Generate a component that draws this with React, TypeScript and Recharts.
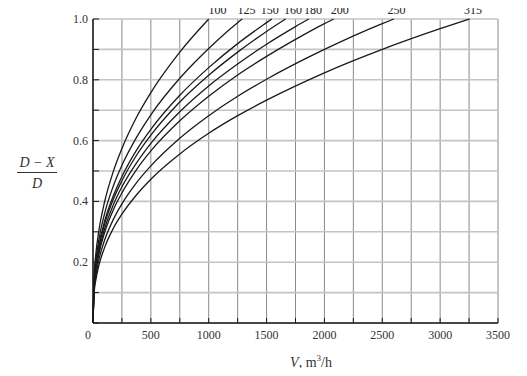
import {
  CartesianGrid,
  Line,
  LineChart,
  ReferenceDot,
  XAxis,
  YAxis,
} from "recharts";

// pipe diameters, one curve each
const diameters = [100, 125, 150, 160, 180, 200, 250, 315];

// [V, (D-X)/D]
const curve100 = [
  [0, 0], [10, 0.158], [25, 0.229], [50, 0.302], [100, 0.398], [175, 0.498],
  [250, 0.574], [375, 0.676], [500, 0.758], [750, 0.891], [1000, 1.0],
];
const curve125 = [
  [0, 0], [10, 0.143], [25, 0.207], [50, 0.273], [100, 0.36], [175, 0.45],
  [250, 0.519], [375, 0.61], [500, 0.685], [750, 0.805], [1000, 0.903],
  [1250, 0.988], [1290, 1.0],
];
const curve150 = [
  [0, 0], [10, 0.133], [25, 0.192], [50, 0.254], [100, 0.335], [175, 0.418],
  [250, 0.482], [375, 0.568], [500, 0.637], [750, 0.749], [1000, 0.84],
  [1250, 0.919], [1500, 0.988], [1545, 1.0],
];
const curve160 = [
  [0, 0], [10, 0.129], [25, 0.186], [50, 0.246], [100, 0.325], [175, 0.406],
  [250, 0.468], [375, 0.551], [500, 0.618], [750, 0.727], [1000, 0.815],
  [1250, 0.891], [1500, 0.959], [1665, 1.0],
];
const curve180 = [
  [0, 0], [10, 0.124], [25, 0.178], [50, 0.235], [100, 0.31], [175, 0.388],
  [250, 0.448], [375, 0.526], [500, 0.591], [750, 0.695], [1000, 0.78],
  [1250, 0.852], [1500, 0.917], [1750, 0.975], [1865, 1.0],
];
const curve200 = [
  [0, 0], [10, 0.118], [25, 0.171], [50, 0.225], [100, 0.297], [175, 0.372],
  [250, 0.428], [375, 0.504], [500, 0.566], [750, 0.665], [1000, 0.746],
  [1250, 0.816], [1500, 0.877], [1750, 0.933], [2000, 0.985], [2080, 1.0],
];
const curve250 = [
  [0, 0], [10, 0.108], [25, 0.156], [50, 0.206], [100, 0.272], [175, 0.34],
  [250, 0.392], [375, 0.461], [500, 0.517], [750, 0.608], [1000, 0.682],
  [1250, 0.746], [1500, 0.802], [2000, 0.9], [2500, 0.985], [2600, 1.0],
];
const curve315 = [
  [0, 0], [10, 0.099], [25, 0.143], [50, 0.188], [100, 0.248], [175, 0.311],
  [250, 0.358], [375, 0.421], [500, 0.473], [750, 0.556], [1000, 0.624],
  [1250, 0.682], [1500, 0.733], [2000, 0.823], [2500, 0.9], [3000, 0.968],
  [3255, 1.0],
];

const curves = [
  curve100, curve125, curve150, curve160,
  curve180, curve200, curve250, curve315,
];

// where the diameter labels sit above the top edge (V value)
const labelAt = [1075, 1326, 1527, 1728, 1901, 2132, 2622, 3284];

const xTicks = [
  0, 250, 500, 750, 1000, 1250, 1500, 1750, 2000, 2250, 2500, 2750, 3000,
  3250, 3500,
];
const yTicks = [0, 0.1, 0.2, 0.3, 0.4, 0.5, 0.6, 0.7, 0.8, 0.9, 1.0];

const font = '"Liberation Serif", "DejaVu Serif", serif';
const ink = "#1a1a1a";

function BottomTick(props: any) {
  const { x, y, payload } = props;
  const v = payload.value;
  return (
    <g>
      <line x1={x} x2={x} y1={y - 6} y2={y - 11} stroke={ink} />
      {v % 500 === 0 && (
        <text
          x={v === 0 ? x - 5 : x}
          y={y + 10}
          textAnchor="middle"
          fontFamily={font}
          fontSize={12}
          fill="#333"
        >
          {v}
        </text>
      )}
    </g>
  );
}

function TopTick(props: any) {
  const { x, y } = props;
  return <line x1={x} x2={x} y1={y + 6} y2={y + 11} stroke={ink} />;
}

function LeftTick(props: any) {
  const { x, y, payload } = props;
  const v = payload.value;
  const tenth = Math.round(v * 10);
  return (
    <g>
      <line x1={x + 6} x2={x + 12} y1={y} y2={y} stroke={ink} />
      {tenth > 0 && tenth % 2 === 0 && (
        <text
          x={x + 1}
          y={y + 4}
          textAnchor="end"
          fontFamily={font}
          fontSize={12}
          fill="#333"
        >
          {v.toFixed(1)}
        </text>
      )}
    </g>
  );
}

function RightTick(props: any) {
  const { x, y } = props;
  return <line x1={x - 6} x2={x - 12} y1={y} y2={y} stroke={ink} />;
}

function DiameterLabel(props: any) {
  const { viewBox, value } = props;
  return (
    <text
      x={viewBox.x}
      y={viewBox.y - 5}
      textAnchor="middle"
      fontFamily={font}
      fontSize={12}
      fill="#222"
    >
      {value}
    </text>
  );
}

export default function App() {
  return (
    <div style={{ position: "relative", width: 527, height: 376, margin: -8 }}>
      <LineChart
        width={527}
        height={376}
        margin={{ top: 19, right: 29, left: 0, bottom: 0 }}
      >
        <CartesianGrid
          horizontal={false}
          stroke="#8a8a8a"
          strokeWidth={1}
        />
        <CartesianGrid
          vertical={false}
          stroke="#c4c4c4"
          strokeWidth={1.6}
        />
        <XAxis
          type="number"
          dataKey="x"
          domain={[0, 3500]}
          ticks={xTicks}
          interval={0}
          height={53}
          tickSize={0}
          tickMargin={6}
          axisLine={{ stroke: ink, strokeWidth: 1.5 }}
          tick={<BottomTick />}
        />
        <XAxis
          xAxisId="top"
          orientation="top"
          type="number"
          dataKey="x"
          domain={[0, 3500]}
          ticks={xTicks}
          interval={0}
          height={0}
          tickSize={0}
          tickMargin={6}
          axisLine={{ stroke: ink, strokeWidth: 1.5 }}
          tick={<TopTick />}
        />
        <YAxis
          type="number"
          dataKey="y"
          domain={[0, 1]}
          ticks={yTicks}
          interval={0}
          width={93}
          tickSize={0}
          tickMargin={6}
          axisLine={{ stroke: ink, strokeWidth: 1.5 }}
          tick={<LeftTick />}
        />
        <YAxis
          yAxisId="right"
          orientation="right"
          type="number"
          dataKey="y"
          domain={[0, 1]}
          ticks={yTicks}
          interval={0}
          width={0}
          tickSize={0}
          tickMargin={6}
          axisLine={{ stroke: ink, strokeWidth: 1.5 }}
          tick={<RightTick />}
        />
        {curves.map((c, i) => (
          <Line
            key={diameters[i]}
            data={c.map(([x, y]) => ({ x, y }))}
            dataKey="y"
            type="monotone"
            stroke={ink}
            strokeWidth={1.3}
            dot={false}
            activeDot={false}
            isAnimationActive={false}
          />
        ))}
        {diameters.map((d, i) => (
          <ReferenceDot
            key={"lbl" + d}
            x={labelAt[i]}
            y={1}
            r={0}
            fill="none"
            stroke="none"
            ifOverflow="visible"
            label={<DiameterLabel value={d} />}
          />
        ))}
      </LineChart>
      <div
        style={{
          position: "absolute",
          left: 17,
          top: 155,
          width: 40,
          textAlign: "center",
          fontFamily: font,
          fontStyle: "italic",
          fontSize: 14,
          lineHeight: "16px",
          color: "#333",
        }}
      >
        <div style={{ borderBottom: "1px solid #333", paddingBottom: 1 }}>
          D − X
        </div>
        <div style={{ paddingTop: 3 }}>D</div>
      </div>
      <div
        style={{
          position: "absolute",
          left: 261,
          top: 350,
          width: 100,
          textAlign: "center",
          fontFamily: font,
          fontSize: 14,
          lineHeight: "16px",
          color: "#333",
        }}
      >
        <i>V</i>, m<sup style={{ fontSize: 9 }}>3</sup>/h
      </div>
    </div>
  );
}
